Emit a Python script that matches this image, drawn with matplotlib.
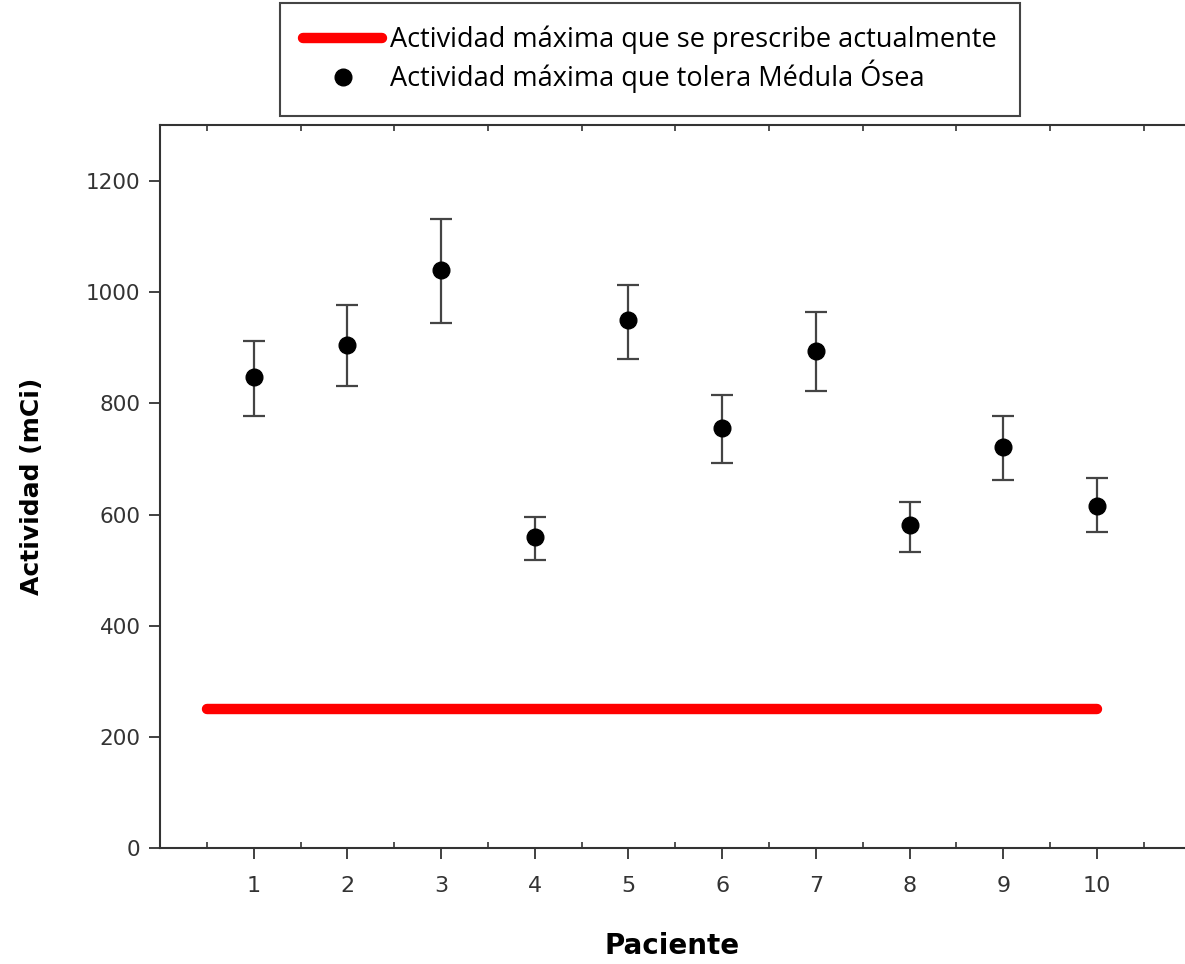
import matplotlib
matplotlib.use("Agg")
import matplotlib.pyplot as plt
from matplotlib.ticker import MultipleLocator

# data
pacientes = [1, 2, 3, 4, 5, 6, 7, 8, 9, 10]
actividad = [847, 905, 1040, 560, 950, 756, 894, 581, 721, 615]
err_sup = [65, 72, 92, 36, 63, 59, 70, 41, 56, 51]
err_inf = [70, 74, 95, 42, 70, 63, 72, 48, 59, 46]

prescrita = 250
prescrita_x = [0.5, 10]

fig = plt.figure(figsize=(11.85, 9.64), dpi=100)
ax = fig.add_axes([0.135, 0.12, 0.865, 0.75])

line, = ax.plot(prescrita_x, [prescrita, prescrita], color='#ff0000',
                lw=7.5, solid_capstyle='round', zorder=2)
eb = ax.errorbar(pacientes, actividad, yerr=[err_inf, err_sup], fmt='o',
                 color='black', ms=12, ecolor='#444444', elinewidth=1.6,
                 capsize=8, capthick=1.6, zorder=3)

ax.set_xlim(0, 10.94)
ax.set_ylim(0, 1300)
ax.set_xticks(pacientes)
ax.xaxis.set_minor_locator(MultipleLocator(0.5))
ax.set_yticks(range(0, 1201, 200))

ax.spines['right'].set_visible(False)
for s in ['left', 'bottom', 'top']:
    ax.spines[s].set_linewidth(1.5)
    ax.spines[s].set_color('#333333')

ax.tick_params(axis='y', which='major', direction='out', length=8, width=1.3,
               color='#333333', pad=6, labelsize=15.5, labelcolor='#333333')
ax.tick_params(axis='x', which='major', direction='out', length=8, width=1.3,
               color='#333333', pad=12, labelsize=16, labelcolor='#333333')
ax.tick_params(axis='x', which='minor', direction='in', length=4, width=1.2,
               color='#333333', top=True)

ax.set_xlabel('Paciente', fontsize=20, fontweight='bold', labelpad=26)
ax.set_ylabel('Actividad (mCi)', fontsize=18, fontweight='bold', labelpad=30)

leg = fig.legend([line, eb.lines[0]],
                 ['Actividad máxima que se prescribe actualmente',
                  'Actividad máxima que tolera Médula Ósea'],
                 loc='upper center', bbox_to_anchor=(0.5485, 0.997),
                 borderaxespad=0,
                 prop={'family': 'Open Sans', 'size': 19.5},
                 handlelength=2.9, handletextpad=0.3, borderpad=0.85,
                 labelspacing=0.2, fancybox=False, framealpha=1,
                 edgecolor='#444444')
leg.get_frame().set_linewidth(1.5)

fig.savefig('out.png', dpi=100)
